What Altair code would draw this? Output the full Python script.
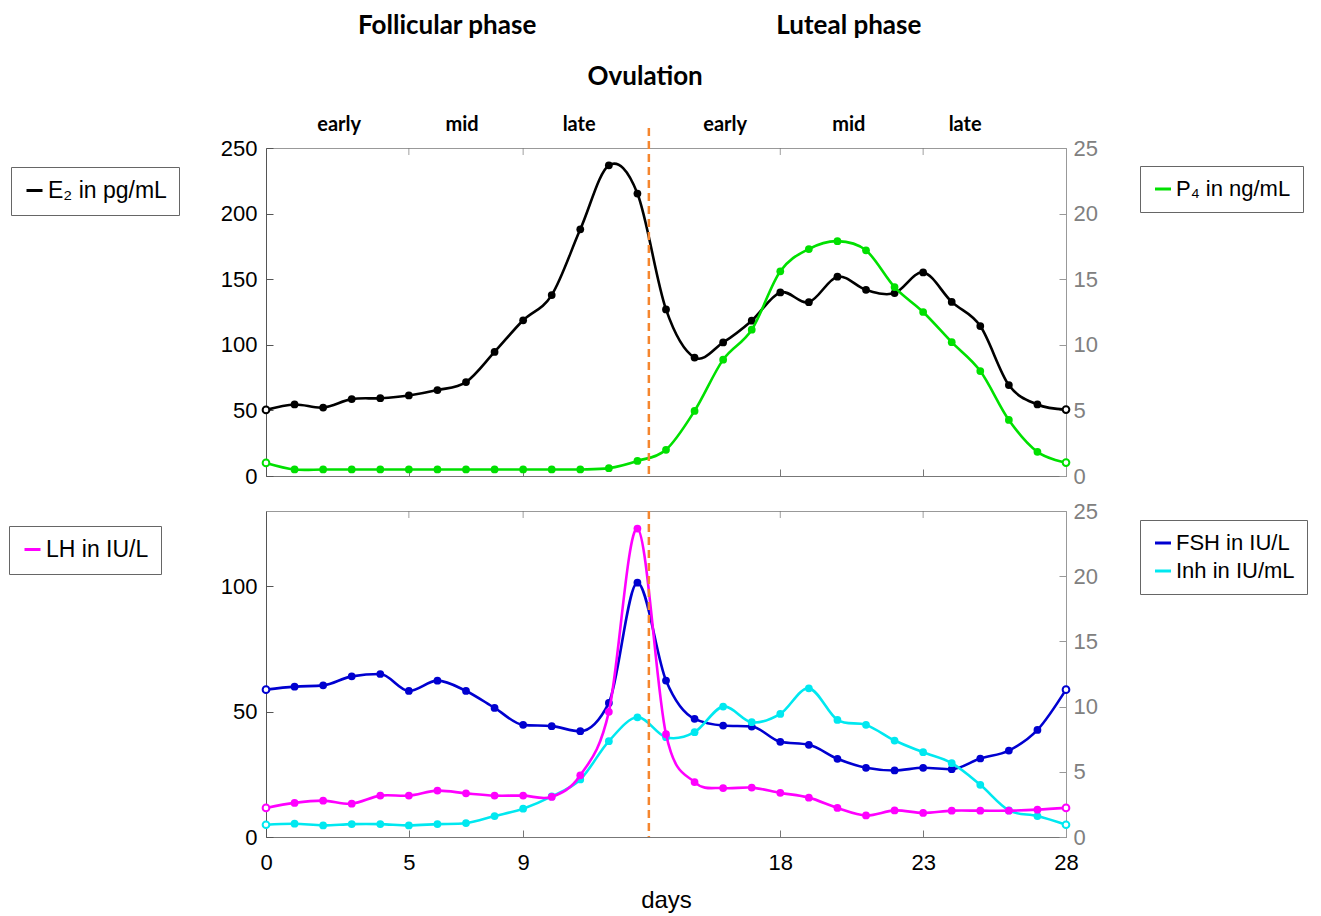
import altair as alt
import pandas as pd

# ---------------- data ----------------
days = list(range(29))
e2 = [50.4, 54.5, 52.2, 58.6, 59.3, 61.4, 65.5, 71.6, 94.6, 118.7, 137.9, 188.0, 236.8, 215.3,
      127.0, 90.3, 101.8, 118.4, 139.9, 132.5, 151.9, 141.9, 139.4, 155.2, 132.7, 114.3, 69.3, 54.5, 50.6]
p4 = [1.0, 0.5, 0.5, 0.5, 0.5, 0.5, 0.5, 0.5, 0.5, 0.5, 0.5, 0.5, 0.6, 1.15,
      2.0, 4.96, 8.87, 11.15, 15.6, 17.3, 17.9, 17.2, 14.4, 12.5, 10.2, 8.0, 4.27, 1.84, 1.02]
lh = [11.6, 13.6, 14.5, 13.3, 16.5, 16.5, 18.5, 17.4, 16.5, 16.5, 16.0, 24.6, 49.9, 123.0,
      41.0, 21.9, 19.5, 19.7, 17.6, 15.7, 11.6, 8.6, 10.6, 9.6, 10.5, 10.5, 10.5, 10.9, 11.6]
fsh = [11.3, 11.53, 11.63, 12.32, 12.5, 11.2, 11.99, 11.2, 9.9, 8.6, 8.5, 8.11, 10.28, 19.5,
       12.0, 9.06, 8.55, 8.47, 7.3, 7.07, 6.0, 5.31, 5.1, 5.31, 5.2, 6.02, 6.63, 8.21, 11.3]
inh = [0.94, 1.02, 0.89, 0.99, 0.99, 0.89, 0.99, 1.07, 1.61, 2.17, 3.11, 4.41, 7.35, 9.18,
       7.65, 8.04, 10.0, 8.8, 9.44, 11.4, 8.98, 8.6, 7.4, 6.5, 5.66, 4.0, 2.04, 1.61, 0.94]

x_ticks = [0, 5, 9, 18, 23, 28]
ovulation_day = [13.4]

phase_text = ["Follicular phase", "Luteal phase"]
phase_day = [6.34, 20.4]
ovulation_text = ["Ovulation"]
ovulation_text_day = [13.27]
stage_text = ["early", "mid", "late", "early", "mid", "late"]
stage_day = [2.56, 6.86, 10.96, 16.07, 20.4, 24.47]

E2_LABEL = "E\u2082 in pg/mL"
P4_LABEL = "P\u2084 in ng/mL"
LH_LABEL = "LH in IU/L"
FSH_LABEL = "FSH in IU/L"
INH_LABEL = "Inh in IU/mL"

# ---------------- style ----------------
W, H1, H2 = 800, 328, 326
FONT = "Arial"
TFONT = "Lato"
TICK_IN = {"expr": "-7"}
C_E2, C_P4 = "#000000", "#00E000"
C_LH, C_FSH, C_INH = "#FF00FF", "#0000D0", "#00E8F0"
C_OV = "#F5862E"

df = pd.DataFrame(dict(day=days, e2=e2, p4=p4, lh=lh, fsh=fsh, inh=inh))
INNER = "datum.day > 0 && datum.day < 28"
OUTER = "datum.day == 0 || datum.day == 28"


def x_enc(bottom):
    if bottom:
        axis = alt.Axis(values=x_ticks, title="days", labelFontSize=22, titleFontSize=24,
                        titleFontWeight="normal", labelColor="black", titleColor="black",
                        labelFont=FONT, titleFont=FONT, domainColor="#777", tickColor="#777",
                        tickSize=TICK_IN, labelPadding=22, titlePadding=15, grid=False,
                        labelFlush=False)
    else:
        axis = alt.Axis(values=x_ticks, title=None, labels=False, domainColor="#777",
                        tickColor="#777", tickSize=TICK_IN, grid=False)
    return alt.X("day:Q", scale=alt.Scale(domain=[0, 28], nice=False, zero=False), axis=axis)


def y_enc(field, domain, values, orient):
    left = orient == "left"
    axis = alt.Axis(orient=orient, values=values, title=None, labelFontSize=22, labelFont=FONT,
                    labelColor="black" if left else "#808080",
                    domainColor="#555" if left else "#999",
                    tickColor="#555" if left else "#999",
                    tickSize=TICK_IN, labelPadding=16 if left else 14, grid=False, labelFlush=False)
    return alt.Y(f"{field}:Q", scale=alt.Scale(domain=domain, nice=False, zero=True), axis=axis)


def legend(x, y, extra, size):
    return alt.Legend(orient="none", legendX=x, legendY=y, title=None, symbolType="stroke",
                      symbolStrokeWidth=3, symbolSize=256, labelFontSize=size, labelFont=FONT,
                      labelColor="black", strokeColor="#666", fillColor="white", padding=12,
                      labelOffset=2, rowPadding=6,
                      labelExpr="datum.label + '" + "\u00a0" * extra + "'")


def color_enc(domain, rng, leg):
    return alt.Color("series:N", scale=alt.Scale(domain=domain, range=rng), legend=leg)


def series(field, label, y, color, interp, cenc):
    base = alt.Chart(df)
    line = base.transform_calculate(series=f"'{label}'").mark_line(
        strokeWidth=2.6, interpolate=interp).encode(x=XE, y=y, color=cenc)
    pts = base.transform_filter(INNER).mark_circle(size=60, color=color, opacity=1).encode(x=XE, y=y)
    ends = base.transform_filter(OUTER).mark_point(size=45, shape="circle", filled=True, fill="white",
                                                   stroke=color, strokeWidth=2, opacity=1).encode(x=XE, y=y)
    return [line, pts, ends]


def annotations(height, with_text):
    rule = alt.Chart(pd.DataFrame({"day": ovulation_day})).mark_rule(
        color=C_OV, strokeWidth=2.5, strokeDash=[8, 5]).encode(
        x=XE, y=alt.value(-20 if with_text else 0), y2=alt.value(height))
    ticks = alt.Chart(pd.DataFrame({"day": x_ticks[1:-1]})).mark_tick(
        orient="vertical", size=7, thickness=1, color="#777").encode(x=XE, y=alt.value(3.5))
    out = [rule, ticks]
    if with_text:
        ph = alt.Chart(pd.DataFrame({"day": phase_day, "t": phase_text})).mark_text(
            font=TFONT, fontWeight="bold", fontSize=26, baseline="middle").encode(
            x=XE, y=alt.value(-122), text="t:N")
        ov = alt.Chart(pd.DataFrame({"day": ovulation_text_day, "t": ovulation_text})).mark_text(
            font=TFONT, fontWeight="bold", fontSize=26, baseline="middle").encode(
            x=XE, y=alt.value(-71), text="t:N")
        st = alt.Chart(pd.DataFrame({"day": stage_day, "t": stage_text})).mark_text(
            font=TFONT, fontWeight="bold", fontSize=20, baseline="middle").encode(
            x=XE, y=alt.value(-23), text="t:N")
        out += [ph, ov, st]
    return out


# ---------------- top panel ----------------
XE = x_enc(False)
y_e2 = y_enc("e2", [0, 250], [0, 50, 100, 150, 200, 250], "left")
y_p4 = y_enc("p4", [0, 25], [0, 5, 10, 15, 20, 25], "right")
c_e2 = color_enc([E2_LABEL], [C_E2], legend(-255, 19, 2, 23))
c_p4 = color_enc([P4_LABEL], [C_P4], legend(874, 18, 1, 22))

top = alt.layer(
    alt.layer(*series("e2", E2_LABEL, y_e2, C_E2, "cardinal", c_e2)),
    alt.layer(*series("p4", P4_LABEL, y_p4, C_P4, "cardinal", c_p4)),
    *annotations(H1, True),
).resolve_scale(y="independent", color="independent").properties(width=W, height=H1)

# ---------------- bottom panel ----------------
XE = x_enc(True)
y_lh = y_enc("lh", [0, 130], [0, 50, 100], "left")
y_fsh = y_enc("fsh", [0, 25], [0, 5, 10, 15, 20, 25], "right")
y_inh = y_enc("inh", [0, 25], [0, 5, 10, 15, 20, 25], "right")
c_lh = color_enc([LH_LABEL], [C_LH], legend(-257, 15, 5, 23))
c_fi = color_enc([FSH_LABEL, INH_LABEL], [C_FSH, C_INH], legend(874, 9, 0, 22))

bottom = alt.layer(
    alt.layer(*series("fsh", FSH_LABEL, y_fsh, C_FSH, "monotone", c_fi),
              *series("inh", INH_LABEL, y_inh, C_INH, "cardinal", c_fi)),
    alt.layer(*series("lh", LH_LABEL, y_lh, C_LH, "cardinal", c_lh)),
    *annotations(H2, False),
).resolve_scale(y="independent", color="independent").properties(width=W, height=H2)

chart = alt.vconcat(top, bottom, spacing=11).resolve_scale(
    x="independent", y="independent", color="independent"
).properties(
    padding={"left": 0, "top": 4, "right": 0, "bottom": 0}
).configure_view(stroke="#999", strokeWidth=1)

chart.save("out.html", embed_options={"renderer": "svg", "actions": False})
